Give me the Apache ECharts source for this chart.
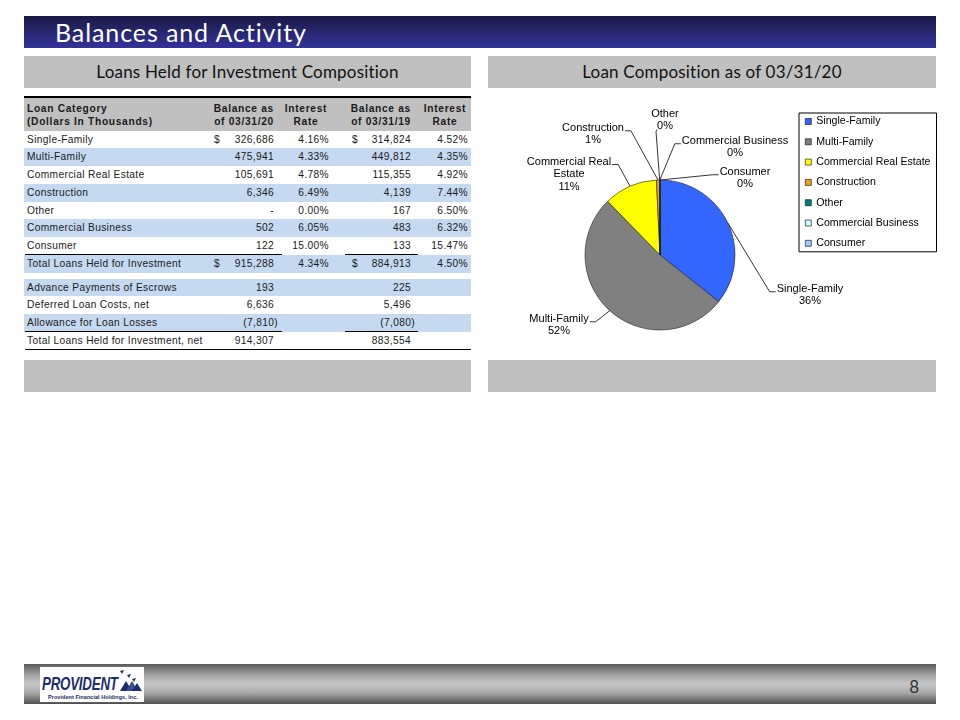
<!DOCTYPE html>
<html>
<head>
<meta charset="utf-8">
<script src="https://cdn.jsdelivr.net/npm/echarts@6/dist/echarts.min.js"></script>
<style>
  html, body { margin: 0; padding: 0; background: #fff; }
  #page { position: relative; width: 960px; height: 720px; overflow: hidden; font-family: 'Liberation Sans', Arial, sans-serif; }
  .abs { position: absolute; }
  .panel { background: #c0c0c0; font-family: Lato, sans-serif; font-size: 17px; letter-spacing: 0.2px; color: #111; text-align: center; line-height: 32px; }
  .cell { position: absolute; height: 14px; line-height: 14px; font-size: 10.2px; letter-spacing: 0.35px; color: #1a1a1a; white-space: nowrap; }
  .cell.b { font-weight: bold; letter-spacing: 0.7px; }
  .rule { position: absolute; background: #000; }
</style>
</head>
<body>
<div id="page">
  <div class="abs" style="left:24px;top:16px;width:912px;height:32px;background:linear-gradient(#1a1a46,#333399);"></div>
  <div class="abs" style="left:55px;top:16px;height:32px;line-height:32px;color:#fff;font-family:Lato,sans-serif;font-size:25px;letter-spacing:0.9px;">Balances and Activity</div>

  <div class="abs panel" style="left:24px;top:56px;width:447px;height:32px;">Loans Held for Investment Composition</div>
  <div class="abs panel" style="left:488px;top:56px;width:448px;height:32px;">Loan Composition as of 03/31/20</div>

  <div id="table" class="abs" style="left:0;top:0;width:960px;height:720px;"></div>

  <div class="abs" style="left:24px;top:360px;width:447px;height:32px;background:#c0c0c0;"></div>
  <div class="abs" style="left:488px;top:360px;width:448px;height:32px;background:#c0c0c0;"></div>

  <div class="abs" style="left:24px;top:664px;width:912px;height:40px;background:linear-gradient(#5c5c5c 0%,#a9a9a9 30%,#c6c6c6 50%,#a9a9a9 72%,#4e4e4e 100%);"></div>
  <div class="abs" style="left:40px;top:667px;width:104px;height:35px;background:#fff;">
    <div class="abs" style="left:2px;top:7px;font-size:18px;font-weight:bold;font-style:italic;color:#1b2d6b;transform:scaleX(0.74);transform-origin:0 0;letter-spacing:-0.3px;">PROVIDENT</div>
    <svg class="abs" style="left:78px;top:2px;" width="26" height="24" viewBox="0 0 26 24">
      <polygon points="2,2 6,1 4,5" fill="#1b2d6b"/>
      <polygon points="9,6 13,5 11,9" fill="#1b2d6b"/>
      <polygon points="14,10 18,9 16,13" fill="#1b2d6b"/>
      <polygon points="2,22 8,12 14,22" fill="#1b2d6b"/>
      <polygon points="8,22 14,12 20,22" fill="#3a4d8f"/>
      <polygon points="14,22 19,14 24,22" fill="#1b2d6b"/>
    </svg>
    <div class="abs" style="left:8px;top:27px;font-size:7px;font-weight:bold;color:#1b2d6b;transform:scale(0.8);transform-origin:0 0;white-space:nowrap;">Provident Financial Holdings, Inc.</div>
  </div>
  <div class="abs" style="left:900px;top:674px;width:19px;text-align:right;font-family:Lato,sans-serif;font-size:17px;line-height:26px;color:#333;">8</div>

  <div id="chart" class="abs" style="left:0;top:0;width:960px;height:720px;"></div>
</div>
<script>
'use strict';

// loan composition, dollars in thousands
const categories = ['Single-Family', 'Multi-Family', 'Commercial Real Estate', 'Construction', 'Other', 'Commercial Business', 'Consumer'];
const balance2020 = [326686, 475941, 105691, 6346, 0, 502, 122];
const rate2020 = [4.16, 4.33, 4.78, 6.49, 0.00, 6.05, 15.00];
const balance2019 = [314824, 449812, 115355, 4139, 167, 483, 133];
const rate2019 = [4.52, 4.35, 4.92, 7.44, 6.50, 6.32, 15.47];

const totalLabel = 'Total Loans Held for Investment';
const total2020 = [915288, 4.34];
const total2019 = [884913, 4.50];

const adjustLabels = ['Advance Payments of Escrows', 'Deferred Loan Costs, net', 'Allowance for Loan Losses'];
const adjust2020 = [193, 6636, -7810];
const adjust2019 = [225, 5496, -7080];

const netLabel = 'Total Loans Held for Investment, net';
const net2020 = 914307;
const net2019 = 883554;

const sliceColors = ['#3366ff', '#808080', '#ffff00', '#e8a317', '#008080', '#ccffff', '#99ccff'];

// ---- table ----
const table = document.getElementById('table');
const BLUE = '#c5d9f1';
const COL = {dollar1: 214, bal1: 274, rate1: 329, dollar2: 352, bal2: 411, rate2: 468};

function put(text, x, yc, align, bold) {
  const el = document.createElement('div');
  el.className = bold ? 'cell b' : 'cell';
  el.textContent = text;
  el.style.top = (yc - 7) + 'px';
  if (align === 'right') {
    el.style.right = (960 - x) + 'px';
  } else if (align === 'center') {
    el.style.left = (x - 50) + 'px';
    el.style.width = '100px';
    el.style.textAlign = 'center';
  } else {
    el.style.left = x + 'px';
  }
  table.appendChild(el);
}

function box(x, y, w, h, color, cls) {
  const el = document.createElement('div');
  el.className = cls || 'abs';
  el.style.left = x + 'px';
  el.style.top = y + 'px';
  el.style.width = w + 'px';
  el.style.height = h + 'px';
  if (color) el.style.background = color;
  table.appendChild(el);
}

function money(v) {
  if (v === 0) return '-';
  const s = Math.abs(v).toLocaleString('en-US');
  return v < 0 ? '(' + s + ')' : s;
}
function pct(v) {
  return v.toFixed(2) + '%';
}

function row(top, h, shaded, label, b1, r1, b2, r2, dollars) {
  if (shaded) box(24, top, 447, h, BLUE);
  const yc = top + h / 2;
  put(label, 27, yc, 'left');
  if (b1 != null) put(money(b1), COL.bal1 + (b1 < 0 ? 4 : 0), yc, 'right');
  if (r1 != null) put(pct(r1), COL.rate1, yc, 'right');
  if (b2 != null) put(money(b2), COL.bal2 + (b2 < 0 ? 4 : 0), yc, 'right');
  if (r2 != null) put(pct(r2), COL.rate2, yc, 'right');
  if (dollars) {
    put('$', COL.dollar1, yc, 'left');
    put('$', COL.dollar2, yc, 'left');
  }
}

box(24, 97, 447, 34, '#c0c0c0');
box(24, 95.5, 447, 2, null, 'rule');
put('Loan Category', 27, 109, 'left', true);
put('(Dollars In Thousands)', 27, 122, 'left', true);
put('Balance as', COL.bal1, 109, 'right', true);
put('of 03/31/20', COL.bal1, 122, 'right', true);
put('Interest', 306, 109, 'center', true);
put('Rate', 306, 122, 'center', true);
put('Balance as', COL.bal2, 109, 'right', true);
put('of 03/31/19', COL.bal2, 122, 'right', true);
put('Interest', 445, 109, 'center', true);
put('Rate', 445, 122, 'center', true);

const rowH = 17.75;
let y = 130.7;
categories.forEach(function(c, i) {
  row(y, rowH, i % 2 === 1, c, balance2020[i], rate2020[i], balance2019[i], rate2019[i], i === 0);
  y += rowH;
});
box(25, y - 0.5, 257, 1, null, 'rule');
box(345, y - 0.5, 73, 1, null, 'rule');
row(y, rowH, true, totalLabel, total2020[0], total2020[1], total2019[0], total2019[1], true);
y += rowH + 6;
adjustLabels.forEach(function(c, i) {
  row(y, rowH, i % 2 === 0, c, adjust2020[i], null, adjust2019[i], null, false);
  y += rowH;
});
box(25, y - 0.5, 257, 1, null, 'rule');
box(345, y - 0.5, 73, 1, null, 'rule');
row(y, rowH, false, netLabel, net2020, null, net2019, null, false);
box(25, y + rowH - 0.5, 446, 1.2, null, 'rule');

// ---- pie ----
const PIE_CENTER = [660, 255];
const PIE_R = 75;
const LABEL_LH = 12.5;
// where each slice label sits, relative to the pie centre, and which side the leader meets
const labelSpots = [
  [150, 40, 'left'],
  [-101, 70, 'right'],
  [-91, -81, 'right'],
  [-67, -121, 'right'],
  [5, -135, 'below'],
  [75, -108, 'left'],
  [85, -77, 'left']
];
const FONT = "'Liberation Sans', Arial, sans-serif";

function sliceLabel(p) {
  const name = p.name === 'Commercial Real Estate' ? 'Commercial Real\nEstate' : p.name;
  return name + '\n' + p.percent + '%';
}

const chart = echarts.init(document.getElementById('chart'));
chart.setOption({
  animation: false,
  legend: {
    orient: 'vertical',
    left: 799,
    top: 113,
    padding: [3, 6, 3, 6],
    itemWidth: 6,
    itemHeight: 6,
    itemGap: 9.3,
    icon: 'rect',
    selectedMode: false,
    borderColor: '#000',
    borderWidth: 1,
    itemStyle: {borderColor: '#000', borderWidth: 0.6},
    textStyle: {fontFamily: FONT, fontSize: 10.6, color: '#000'},
    data: categories
  },
  series: [{
    type: 'pie',
    center: PIE_CENTER,
    radius: PIE_R,
    startAngle: 90,
    clockwise: true,
    percentPrecision: 0,
    avoidLabelOverlap: false,
    color: sliceColors,
    itemStyle: {borderColor: '#222', borderWidth: 0.6},
    label: {
      position: 'outside',
      formatter: sliceLabel,
      fontFamily: FONT,
      fontSize: 11,
      lineHeight: LABEL_LH,
      color: '#000',
      align: 'center'
    },
    labelLine: {show: true, length: 10, length2: 6, lineStyle: {color: '#000', width: 0.8}},
    labelLayout: function(p) {
      const s = labelSpots[p.dataIndex];
      const w = p.labelRect.width;
      const h = p.labelRect.height;
      const x = PIE_CENTER[0] + s[0];
      const yy = PIE_CENTER[1] + s[1];
      const firstLine = yy - h / 2 + LABEL_LH / 2 + 3;
      let end;
      let elbow;
      if (s[2] === 'left') {
        end = [x - w / 2 - 1, firstLine];
        elbow = [end[0] - 6, firstLine];
      } else if (s[2] === 'right') {
        end = [x + w / 2 + 1, firstLine];
        elbow = [end[0] + 6, firstLine];
      } else {
        end = [x - 8, yy + h / 2 - 3];
        elbow = [end[0] - 1, end[1] + 2];
      }
      const start = p.labelLinePoints ? p.labelLinePoints[0] : elbow;
      return {
        x: x,
        y: yy,
        align: 'center',
        verticalAlign: 'middle',
        labelLinePoints: [start, elbow, end]
      };
    },
    data: categories.map(function(c, i) {
      return {name: c, value: balance2020[i]};
    })
  }]
});
</script>
</body>
</html>
